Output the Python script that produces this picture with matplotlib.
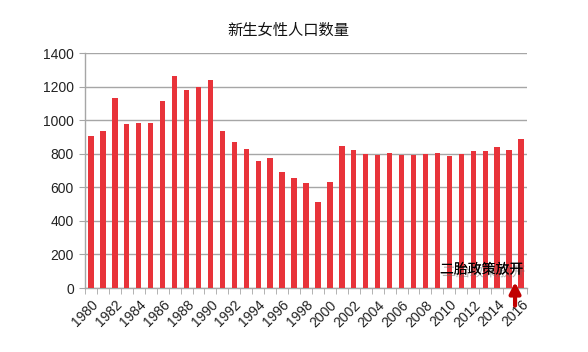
import matplotlib
matplotlib.use("Agg")
import matplotlib.pyplot as plt
import matplotlib.patheffects as pe
import numpy as np

plt.rcParams['font.family'] = ['Liberation Sans', 'Noto Sans CJK SC', 'DejaVu Sans']

years = list(range(1980, 2017))
values = [906, 936, 1133, 978, 984, 984, 1115, 1265, 1181, 1197, 1241,
          936, 870, 829, 757, 775, 691, 655, 625, 512, 631,
          846, 823, 799, 793, 805, 793, 793, 799, 805, 787,
          799, 817, 817, 841, 823, 888]
title = "新生女性人口数量"
note = "二胎政策放开"
yticks = [0, 200, 400, 600, 800, 1000, 1200, 1400]

fig = plt.figure(figsize=(5.88, 3.52), dpi=100)
ax = fig.add_axes([85/588, 1-288/352, (527-85)/588, (288-53)/352])

x = np.arange(len(years))
ax.bar(x, values, width=0.45, color='#E8333A', zorder=3)

ax.set_xlim(-0.5, len(years)-0.5)
ax.set_ylim(0, 1400)
ax.set_yticks(yticks)
ax.set_yticklabels([str(v) for v in yticks], fontsize=10, color='#222222')
ax.grid(axis='y', color='#A6A6A6', linewidth=1, zorder=0)

ax.set_xticks(x[::2])
ax.set_xticklabels([str(y) for y in years[::2]], rotation=45, ha='right',
                   rotation_mode='anchor', fontsize=10, color='#222222')
ax.tick_params(axis='x', which='major', length=0, pad=7)
ax.set_xticks(np.arange(-0.5, len(years), 1), minor=True)
ax.tick_params(axis='x', which='minor', length=4, color='#A6A6A6', direction='out')
ax.tick_params(axis='y', length=4, color='#A6A6A6', pad=4)

for s in ['top', 'right']:
    ax.spines[s].set_visible(False)
for s in ['left', 'bottom']:
    ax.spines[s].set_color('#A6A6A6')
    ax.spines[s].set_linewidth(1)

fig.text(288/588, 1-30/352, title, ha='center', va='center', fontsize=11,
         family=['Noto Sans CJK SC', 'DejaVu Sans'], color='#111111')

ax.text(len(years)-4.3, 110, note, ha='center', va='center', fontsize=10,
        family=['Noto Sans CJK SC', 'DejaVu Sans'], color='#000000', zorder=5,
        path_effects=[pe.withSimplePatchShadow(offset=(1.5, -2), shadow_rgbFace='#666666', alpha=0.5),
                      pe.Normal()])

ax.annotate('', xy=(len(years)-1.5, 36), xytext=(len(years)-1.5, -105),
            arrowprops=dict(arrowstyle='-|>', color='#C00000', lw=3, mutation_scale=16,
                            shrinkA=0, shrinkB=0),
            annotation_clip=False, zorder=6)

fig.savefig('out.png', dpi=100)
